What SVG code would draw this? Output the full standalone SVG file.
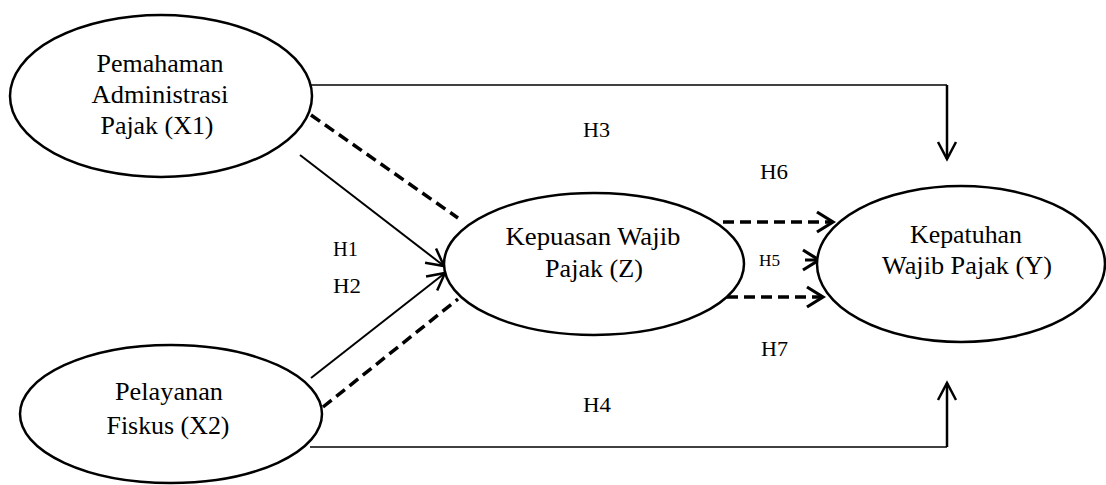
<svg xmlns="http://www.w3.org/2000/svg" width="1106" height="485" viewBox="0 0 1106 485">
<style>
.node ellipse{fill:#fff;stroke:#000;stroke-width:2.5}
.nt{font-family:"Times New Roman","Liberation Serif",serif;font-size:25px;text-anchor:middle;fill:#000}
.lb{font-family:"Times New Roman","Liberation Serif",serif;font-size:21px;fill:#000}
.thin{fill:none;stroke:#000;stroke-width:1.5}
.solid{fill:none;stroke:#000;stroke-width:2}
.vert{fill:none;stroke:#000;stroke-width:2.5}
.dash{fill:none;stroke:#000;stroke-width:3.5;stroke-dasharray:11 6}
</style>
<defs>
<marker id="ah" markerUnits="userSpaceOnUse" markerWidth="30" markerHeight="30" refX="0" refY="0" viewBox="-20 -15 30 30" orient="auto" overflow="visible">
<path d="M-17,-9 L0,0 L-17,9" fill="none" stroke="#000" stroke-width="2.5" stroke-linejoin="miter"/>
</marker>
<marker id="ahb" markerUnits="userSpaceOnUse" markerWidth="30" markerHeight="30" refX="0" refY="0" viewBox="-20 -15 30 30" orient="auto" overflow="visible">
<path d="M-16,-10 L0,0 L-16,10" fill="none" stroke="#000" stroke-width="3.2" stroke-linejoin="miter"/>
</marker>
</defs>
<g id="connectors">
<polyline class="thin" points="311,85 947,85"/>
<line class="vert" x1="947" y1="85" x2="947" y2="159" marker-end="url(#ah)"/>
<polyline class="thin" points="310,447 947,447"/>
<line class="vert" x1="947" y1="447" x2="947" y2="383" marker-end="url(#ah)"/>
<line class="solid" x1="300" y1="155" x2="444" y2="266" marker-end="url(#ah)"/>
<line class="solid" x1="311" y1="378" x2="445" y2="273" marker-end="url(#ah)"/>
<line class="dash" x1="311" y1="115" x2="458" y2="218"/>
<line class="dash" x1="323" y1="407" x2="458" y2="299"/>
<line class="dash" x1="723" y1="222" x2="833" y2="222" marker-end="url(#ahb)"/>
<line class="dash" x1="727" y1="297" x2="823" y2="297" marker-end="url(#ahb)"/>
<line x1="805" y1="260" x2="819" y2="260" stroke="#000" stroke-width="3" marker-end="url(#ahb)"/>
</g>
<g id="labels">
<text class="lb" x="583" y="137" textLength="27" lengthAdjust="spacingAndGlyphs">H3</text>
<text class="lb" x="760" y="179" textLength="28" lengthAdjust="spacingAndGlyphs">H6</text>
<text class="lb" x="333" y="256" textLength="25" lengthAdjust="spacingAndGlyphs">H1</text>
<text class="lb" x="333" y="293" textLength="28" lengthAdjust="spacingAndGlyphs">H2</text>
<text class="lb" x="759" y="266" style="font-size:16px" textLength="21" lengthAdjust="spacingAndGlyphs">H5</text>
<text class="lb" x="761" y="356" textLength="27" lengthAdjust="spacingAndGlyphs">H7</text>
<text class="lb" x="583" y="412" textLength="28" lengthAdjust="spacingAndGlyphs">H4</text>
</g>
<g id="node-x1" class="node">
<ellipse cx="161" cy="96" rx="151" ry="81"/>
<text class="nt" x="160" y="72" textLength="127" lengthAdjust="spacingAndGlyphs">Pemahaman</text>
<text class="nt" x="160" y="103" textLength="137" lengthAdjust="spacingAndGlyphs">Administrasi</text>
<text class="nt" x="157" y="134" textLength="113" lengthAdjust="spacingAndGlyphs">Pajak (X1)</text>
</g>
<g id="node-x2" class="node">
<ellipse cx="171" cy="414" rx="151" ry="69"/>
<text class="nt" x="169" y="400" textLength="108" lengthAdjust="spacingAndGlyphs">Pelayanan</text>
<text class="nt" x="168" y="434" textLength="123" lengthAdjust="spacingAndGlyphs">Fiskus (X2)</text>
</g>
<g id="node-z" class="node">
<ellipse cx="594" cy="264" rx="150" ry="71"/>
<text class="nt" x="593" y="245" textLength="175" lengthAdjust="spacingAndGlyphs">Kepuasan Wajib</text>
<text class="nt" x="594" y="277" textLength="98" lengthAdjust="spacingAndGlyphs">Pajak (Z)</text>
</g>
<g id="node-y" class="node">
<ellipse cx="961" cy="264" rx="144" ry="78"/>
<text class="nt" x="966" y="243" textLength="112" lengthAdjust="spacingAndGlyphs">Kepatuhan</text>
<text class="nt" x="967" y="274" textLength="170" lengthAdjust="spacingAndGlyphs">Wajib Pajak (Y)</text>
</g>
</svg>
